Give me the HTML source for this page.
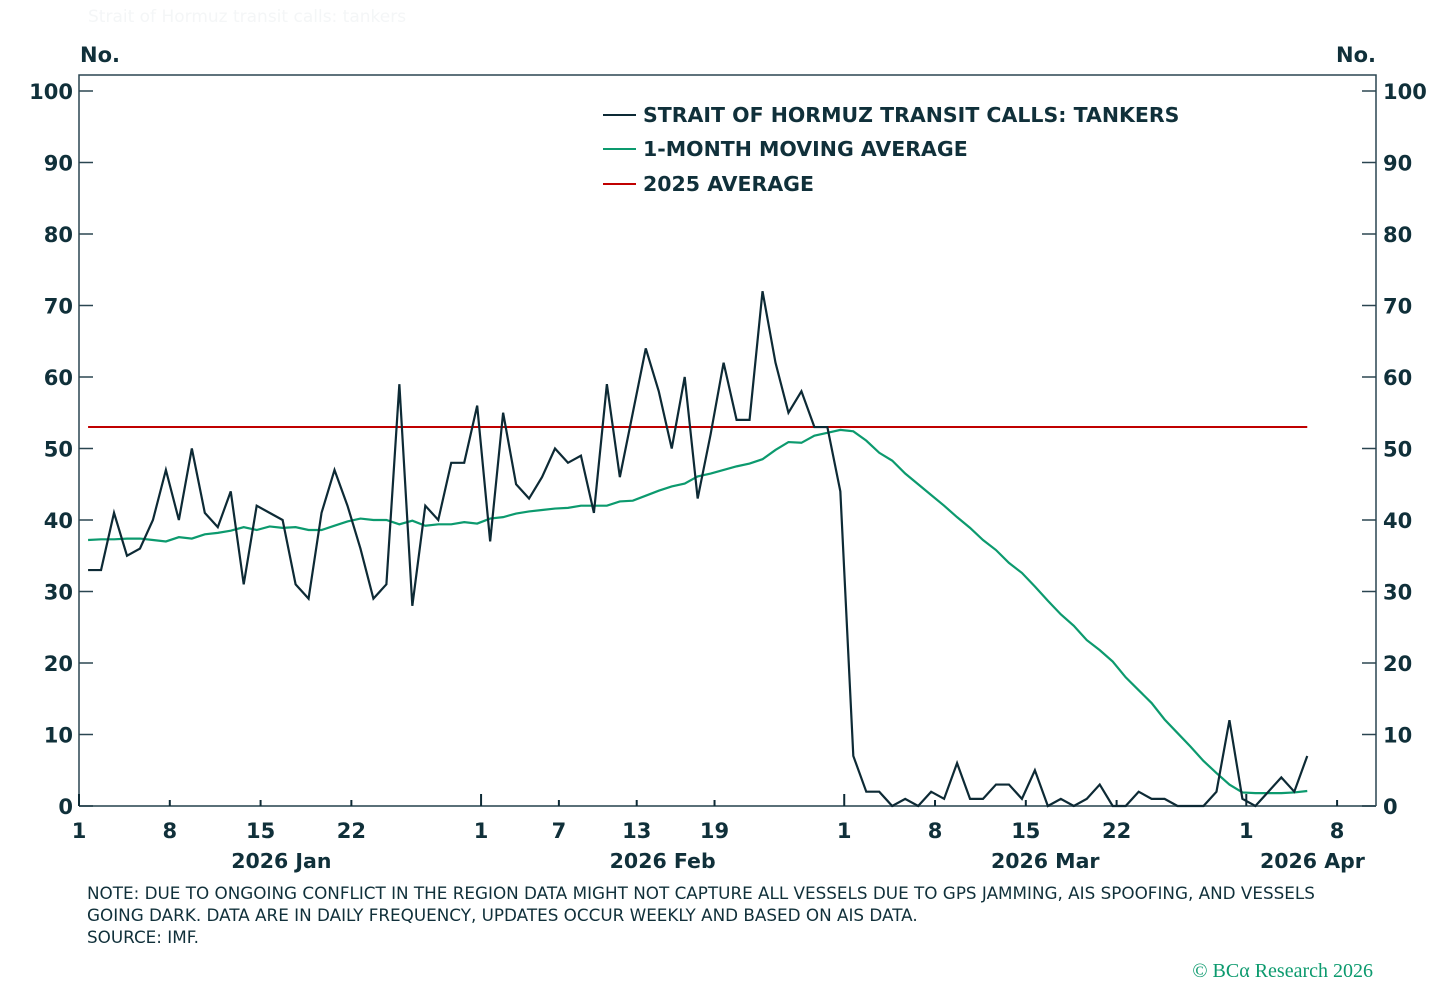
<!DOCTYPE html>
<html><head><meta charset="utf-8"><style>
body{margin:0;background:#fff;width:1456px;height:983px;overflow:hidden;font-family:"Liberation Sans",sans-serif;}
svg text{font-family:"DejaVu Sans","Liberation Sans",sans-serif;fill:#10303a;}
</style></head><body>
<svg width="1456" height="983">
<text x="88" y="22" font-size="17" style="fill:#f4f6f7">Strait of Hormuz transit calls: tankers</text>
<text x="80" y="62" font-size="21" font-weight="bold">No.</text>
<text x="1376" y="62" font-size="21" font-weight="bold" text-anchor="end">No.</text>
<g id="axes"></g>
<g id="marks"></g>
<g>
<line x1="603" y1="115" x2="636" y2="115" stroke="#0d2a35" stroke-width="2"/>
<text x="643" y="122" font-size="20.5" font-weight="bold">STRAIT OF HORMUZ TRANSIT CALLS: TANKERS</text>
<line x1="603" y1="149" x2="636" y2="149" stroke="#0c9a6e" stroke-width="2"/>
<text x="643" y="156" font-size="20.5" font-weight="bold">1-MONTH MOVING AVERAGE</text>
<line x1="603" y1="184" x2="636" y2="184" stroke="#c00000" stroke-width="2"/>
<text x="643" y="191" font-size="20.5" font-weight="bold">2025 AVERAGE</text>
</g>
<text x="87" y="899" font-size="16.8">NOTE: DUE TO ONGOING CONFLICT IN THE REGION DATA MIGHT NOT CAPTURE ALL VESSELS DUE TO GPS JAMMING, AIS SPOOFING, AND VESSELS</text>
<text x="87" y="921" font-size="16.8">GOING DARK. DATA ARE IN DAILY FREQUENCY, UPDATES OCCUR WEEKLY AND BASED ON AIS DATA.</text>
<text x="87" y="943" font-size="16.8">SOURCE: IMF.</text>
<text x="1373" y="977" font-size="20" text-anchor="end" style="fill:#0c9a6e;font-family:'Liberation Serif',serif">© BCα Research 2026</text>
</svg>
<script>
const tankers=[33,33,41,35,36,40,47,40,50,41,39,44,31,42,41,40,31,29,41,47,42,36,29,31,59,28,42,40,48,48,56,37,55,45,43,46,50,48,49,41,59,46,55,64,58,50,60,43,52,62,54,54,72,62,55,58,53,53,44,7,2,2,0,1,0,2,1,6,1,1,3,3,1,5,0,1,0,1,3,0,0,2,1,1,0,0,0,2,12,1,0,2,4,2,7];
const movingAvg=[37.2,37.3,37.3,37.4,37.4,37.2,37.0,37.6,37.4,38.0,38.2,38.5,39.0,38.6,39.1,38.9,39.0,38.6,38.6,39.2,39.8,40.2,40.0,40.0,39.4,39.9,39.2,39.4,39.4,39.7,39.5,40.2,40.4,40.9,41.2,41.4,41.6,41.7,42.0,42.0,42.0,42.6,42.7,43.4,44.1,44.7,45.1,46.1,46.5,47.0,47.5,47.9,48.5,49.8,50.9,50.8,51.8,52.2,52.6,52.4,51.1,49.4,48.3,46.5,45.0,43.5,42.0,40.4,38.9,37.2,35.8,34.0,32.6,30.7,28.7,26.8,25.2,23.2,21.8,20.2,18.0,16.2,14.4,12.1,10.2,8.3,6.3,4.6,3.0,1.9,1.8,1.8,1.8,1.9,2.1];
const avg2025=[53];
const yTicks=[0,10,20,30,40,50,60,70,80,90,100];
const xTickDays=[0,7,14,21,31,37,43,49,59,66,73,80,90,97];
const xTickLabels=["1","8","15","22","1","7","13","19","1","8","15","22","1","8"];
const monthLabels=["2026 Jan","2026 Feb","2026 Mar","2026 Apr"];
const monthDays=[15.6,45,74.5,95.1];
const startOffset=0.7;
const NS="http://www.w3.org/2000/svg";
const X0=79,X1=1376,Y0=806,Ypx=7.15,Dpx=12.97;
const xs=d=>X0+d*Dpx, ys=v=>Y0-v*Ypx;
function mk(p,tag,at){const e=document.createElementNS(NS,tag);for(const k in at)e.setAttribute(k,at[k]);p.appendChild(e);return e;}
const ax=document.getElementById('axes'),mg=document.getElementById('marks');
const frame=mk(ax,'path',{d:`M${X0} ${Y0}V75H${X1}V${Y0}`,fill:'none',stroke:'#2a4550','stroke-width':1.5});


const base=mk(ax,'line',{x1:X0,x2:X1,y1:Y0,y2:Y0,stroke:'#5a7078','stroke-width':2});


yTicks.forEach(v=>{const y=ys(v);
mk(ax,'line',{x1:X0,x2:X0+14,y1:y,y2:y,stroke:'#2a4550','stroke-width':1.5});
mk(ax,'line',{x1:X1-14,x2:X1,y1:y,y2:y,stroke:'#2a4550','stroke-width':1.5});
const t1=mk(ax,'text',{x:73,y:y+8,'font-size':21,'text-anchor':'end','font-weight':'bold'});t1.textContent=v;


const t2=mk(ax,'text',{x:1383,y:y+8,'font-size':21,'font-weight':'bold'});t2.textContent=v;

});
xTickDays.forEach((d,i)=>{const x=xs(d);
mk(ax,'line',{x1:x,x2:x,y1:Y0-(i==0||i==4||i==8||i==12?12:6),y2:Y0,stroke:'#0d2a35','stroke-width':2});
const t=mk(ax,'text',{x:x,y:838,'font-size':21,'text-anchor':'middle','font-weight':'bold'});t.textContent=xTickLabels[i];

});
monthLabels.forEach((m,i)=>{const t=mk(ax,'text',{x:xs(monthDays[i]),y:868,'font-size':20.5,'text-anchor':'middle','font-weight':'bold'});t.textContent=m;

});
const ref=mk(mg,'line',{x1:xs(0.7),x2:xs(94.7),y1:ys(avg2025[0]),y2:ys(avg2025[0]),stroke:'#c00000','stroke-width':2});


const ma=mk(mg,'polyline',{points:movingAvg.map((v,i)=>xs(i+startOffset)+','+ys(v)).join(' '),fill:'none',stroke:'#0c9a6e','stroke-width':2.2});


const tk=mk(mg,'polyline',{points:tankers.map((v,i)=>xs(i+startOffset)+','+ys(v)).join(' '),fill:'none',stroke:'#0d2a35','stroke-width':2.2,'stroke-linejoin':'miter'});


</script>
</body></html>
